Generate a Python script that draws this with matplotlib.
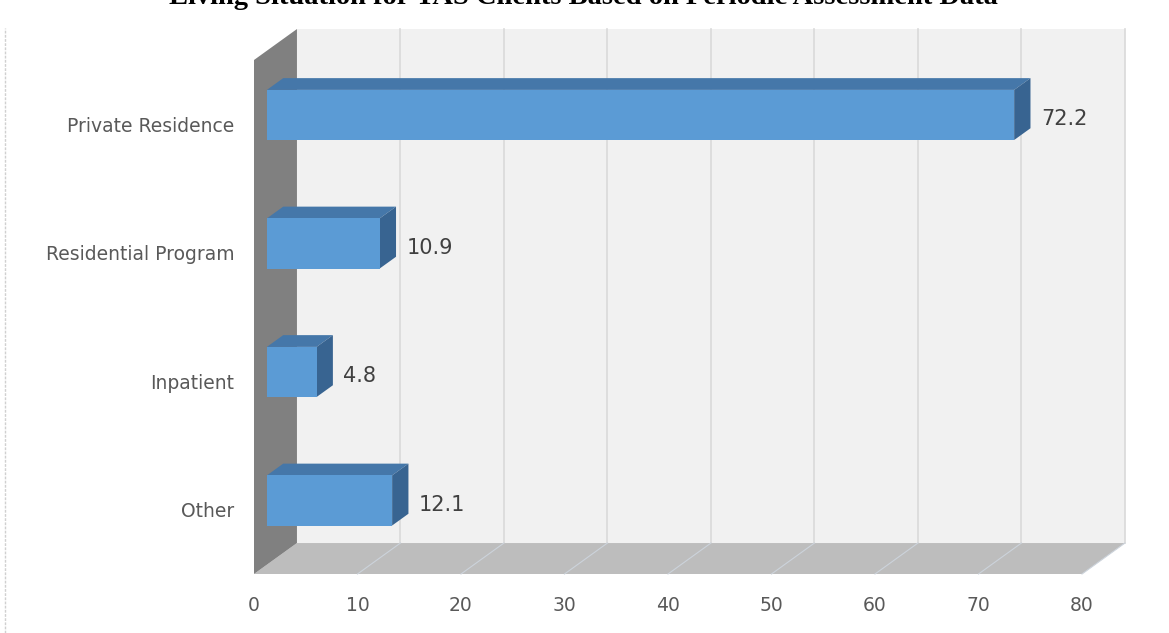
import numpy as np
import matplotlib
matplotlib.use('Agg')
import matplotlib.pyplot as plt
from matplotlib.patches import Polygon

# data
categories = ['Other', 'Inpatient', 'Residential Program', 'Private Residence']
values = [12.1, 4.8, 10.9, 72.2]
x_ticks = [0, 10, 20, 30, 40, 50, 60, 70, 80]
title = 'Living Situation for TAS Clients Based on Periodic Assessment Data'

# 3d look: depth vector in data units
DX, DY = 4.15, 0.241
XMAX = 80
YLO, YHI = -0.5, 3.5


def shift(x, y, t):
    return (x + t * DX, y + t * DY)


def quad(ax, pts, color, z):
    ax.add_patch(Polygon(pts, closed=True, facecolor=color, edgecolor='none',
                         lw=0, zorder=z, clip_on=False))


fig = plt.figure(figsize=(11.69, 6.33), dpi=100)
ax = fig.add_axes([254 / 1169, (633 - 574) / 633, 828 / 1169, 514 / 633])
ax.set_xlim(0, XMAX)
ax.set_ylim(YLO, YHI)
for s in ax.spines.values():
    s.set_visible(False)
ax.patch.set_visible(False)

# back wall
quad(ax, [shift(0, YLO, 1), shift(XMAX, YLO, 1), shift(XMAX, YHI, 1), shift(0, YHI, 1)], '#f1f1f1', 1)
# gridlines on back wall
for xv in x_ticks[1:]:
    p0 = shift(xv, YLO, 1)
    p1 = shift(xv, YHI, 1)
    ax.plot([p0[0], p1[0]], [p0[1], p1[1]], color='#d9d9d9', lw=1.2, zorder=2, clip_on=False)
# floor
quad(ax, [shift(0, YLO, 0), shift(XMAX, YLO, 0), shift(XMAX, YLO, 1), shift(0, YLO, 1)], '#bdbdbd', 3)
for xv in x_ticks[1:]:
    p0 = shift(xv, YLO, 0)
    p1 = shift(xv, YLO, 1)
    ax.plot([p0[0], p1[0]], [p0[1], p1[1]], color='#ccd3db', lw=0.8, zorder=4, clip_on=False)
# left wall
quad(ax, [shift(0, YLO, 0), shift(0, YLO, 1), shift(0, YHI, 1), shift(0, YHI, 0)], '#808080', 5)

# bars
t0, t1 = 0.3, 0.68
h = 0.195
for i, v in enumerate(values):
    y0, y1 = i - h, i + h
    front = [shift(0, y0, t0), shift(v, y0, t0), shift(v, y1, t0), shift(0, y1, t0)]
    top = [shift(0, y1, t0), shift(v, y1, t0), shift(v, y1, t1), shift(0, y1, t1)]
    side = [shift(v, y0, t0), shift(v, y0, t1), shift(v, y1, t1), shift(v, y1, t0)]
    quad(ax, top, '#4577a9', 6)
    quad(ax, side, '#386491', 6)
    quad(ax, front, '#5b9bd5', 7)
    lx, ly = shift(v, i, t0)
    ax.text(lx + 2.6, i + 0.04, f'{v:.1f}', ha='left', va='center',
            fontsize=15, color='#404040', zorder=8)

ax.set_yticks(range(len(categories)))
ax.set_yticklabels(categories, fontsize=13.5, color='#595959')
ax.set_xticks(x_ticks)
ax.set_xticklabels([str(x) for x in x_ticks], fontsize=13.5, color='#595959')
ax.tick_params(length=0)
ax.tick_params(axis='y', pad=14)
ax.tick_params(axis='x', pad=16)

# chart border line on the left
fig.add_artist(plt.Line2D([5 / 1169, 5 / 1169], [0, 1 - 28 / 633], color='#d0d0d0',
                          lw=1, ls=(0, (2, 1)), transform=fig.transFigure))

fig.text(583 / 1169, 1 - 4.5 / 633, title, ha='center', va='baseline',
         fontsize=20.5, fontweight='bold', family='Liberation Serif')

fig.savefig('out.png', dpi=100)
